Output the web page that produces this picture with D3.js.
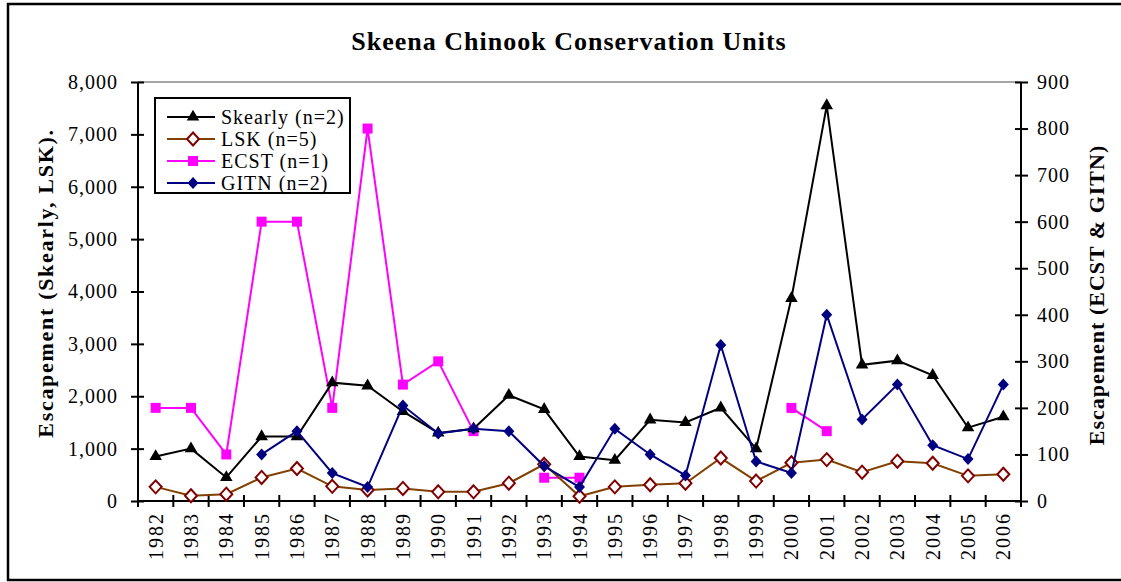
<!DOCTYPE html>
<html lang="en">
<head>
    <meta charset="UTF-8">
    <title>Skeena Chinook Conservation Units</title>
    <style>
        body {
            margin: 0;
            padding: 0;
            background: #fff;
        }
        svg text {
            font-family: "Liberation Serif", "Times New Roman", Times, serif !important;
        }
    </style>
</head>
<body>
<svg id="chart" width="1121" height="582"></svg>

<script src="https://d3js.org/d3.v7.min.js"></script>
<script>
    // data
    var years = [1982, 1983, 1984, 1985, 1986, 1987, 1988, 1989, 1990, 1991, 1992, 1993,
        1994, 1995, 1996, 1997, 1998, 1999, 2000, 2001, 2002, 2003, 2004, 2005, 2006];

    // left axis
    var skearly = [850, 1000, 450, 1230, 1230, 2260, 2200, 1710, 1300, 1380, 2020, 1750,
        850, 780, 1550, 1500, 1780, 1000, 3870, 7550, 2600, 2680, 2400, 1400, 1610];
    var lsk = [270, 100, 130, 450, 620, 280, 210, 240, 175, 175, 340, 700,
        90, 270, 310, 340, 820, 380, 730, 790, 550, 760, 720, 480, 510];

    // right axis
    var ecst = [200, 200, 100, 600, 600, 200, 800, 250, 300, 150, null, 50,
        50, null, null, null, null, null, 200, 150, null, null, null, null, null];
    var gitn = [null, null, null, 100, 150, 60, 30, 205, 145, 155, 150, 75,
        30, 155, 100, 55, 335, 85, 60, 400, 175, 250, 120, 90, 250];

    var leftTicks = [0, 1000, 2000, 3000, 4000, 5000, 6000, 7000, 8000];
    var rightTicks = [0, 100, 200, 300, 400, 500, 600, 700, 800, 900];

    var serif = "'Liberation Serif', 'Times New Roman', Times, serif";
    var svg = d3.select("#chart");
    var margin = {top: 82, right: 100, bottom: 81, left: 138};
    var W = 1121, H = 582;
    var width = W - margin.left - margin.right;
    var height = H - margin.top - margin.bottom;

    // outer frame
    svg.append("rect")
        .attr("x", 8).attr("y", 4)
        .attr("width", 1130).attr("height", 576)
        .attr("fill", "none")
        .attr("stroke", "#000")
        .attr("stroke-width", 2.5);

    var g = svg.append("g")
        .attr("transform", "translate(" + margin.left + "," + margin.top + ")");

    var x = d3.scaleBand().domain(years).range([0, width]);
    var yL = d3.scaleLinear().domain([0, 8000]).range([height, 0]);
    var yR = d3.scaleLinear().domain([0, 900]).range([height, 0]);
    var cx = function (i) { return x(years[i]) + x.bandwidth() / 2; };

    // top border of plot area
    g.append("line")
        .attr("x1", 0).attr("x2", width)
        .attr("y1", 0).attr("y2", 0)
        .attr("stroke", "#888").attr("stroke-width", 1.5);

    // left axis
    var axL = g.append("g")
        .call(d3.axisLeft(yL).tickValues(leftTicks).tickFormat(d3.format(",")).tickSize(7).tickPadding(13));
    axL.selectAll(".tick line").attr("x2", -7).attr("x1", 6);
    // right axis
    var axR = g.append("g")
        .attr("transform", "translate(" + width + ",0)")
        .call(d3.axisRight(yR).tickValues(rightTicks).tickSize(7).tickPadding(9));
    axR.selectAll(".tick line").attr("x1", -6).attr("x2", 7);

    [axL, axR].forEach(function (a) {
        a.attr("font-family", serif);
        a.select(".domain").attr("stroke", "#000").attr("stroke-width", 2).attr("d", "M0,0V" + height);
        a.selectAll(".tick line").attr("stroke", "#000").attr("stroke-width", 2);
        a.selectAll(".tick text")
            .attr("fill", "#000")
            .style("font-size", "20px")
            .style("letter-spacing", "1px")
            .style("font-family", serif);
    });

    // x axis, ticks between categories
    var axX = g.append("g").attr("transform", "translate(0," + height + ")");
    axX.append("line")
        .attr("x1", 0).attr("x2", width)
        .attr("stroke", "#000").attr("stroke-width", 2);
    axX.selectAll(".xt")
        .data(d3.range(years.length + 1))
        .enter().append("line")
        .attr("x1", function (i) { return i * x.step(); })
        .attr("x2", function (i) { return i * x.step(); })
        .attr("y1", -6).attr("y2", 6)
        .attr("stroke", "#000").attr("stroke-width", 2);
    axX.selectAll(".xl")
        .data(years)
        .enter().append("text")
        .attr("transform", function (d) {
            return "translate(" + (x(d) + x.bandwidth() / 2 + 7) + ",11) rotate(-90)";
        })
        .attr("text-anchor", "end")
        .style("font-family", serif)
        .style("font-size", "20px")
        .style("letter-spacing", "2px")
        .text(function (d) { return d; });

    // lines + markers
    function series(values, scale, color, width_) {
        var line = d3.line()
            .defined(function (d) { return d != null; })
            .x(function (d, i) { return cx(i); })
            .y(function (d) { return scale(d); });
        g.append("path")
            .datum(values)
            .attr("fill", "none")
            .attr("stroke", color)
            .attr("stroke-width", width_)
            .attr("d", line);
        var pts = [];
        values.forEach(function (v, i) { if (v != null) pts.push({i: i, v: v}); });
        return g.append("g").selectAll("path")
            .data(pts).enter().append("path")
            .attr("transform", function (d) { return "translate(" + cx(d.i) + "," + scale(d.v) + ")"; });
    }

    var tri = d3.symbol().type(d3.symbolTriangle).size(68)();
    var dia = "M0,-6.5L6,0L0,6.5L-6,0Z";
    var diaSmall = "M0,-6L5.5,0L0,6L-5.5,0Z";
    var sq = "M-5,-5H5V5H-5Z";

    series(ecst, yR, "#ff00ff", 2).attr("d", sq).attr("fill", "#ff00ff");
    series(skearly, yL, "#000", 2).attr("d", tri).attr("fill", "#000");
    series(lsk, yL, "#804000", 2).attr("d", dia).attr("fill", "#fff")
        .attr("stroke", "#800000").attr("stroke-width", 2);
    series(gitn, yR, "#000080", 2).attr("d", diaSmall).attr("fill", "#000080");

    // title
    svg.append("text")
        .attr("x", 569).attr("y", 50)
        .attr("text-anchor", "middle")
        .style("font-family", serif)
        .style("font-size", "26px")
        .style("font-weight", "bold")
        .style("letter-spacing", "1px")
        .text("Skeena Chinook Conservation Units");

    // axis titles
    svg.append("text")
        .attr("transform", "translate(53,283) rotate(-90)")
        .attr("text-anchor", "middle")
        .style("font-family", serif)
        .style("font-size", "22px")
        .style("font-weight", "bold")
        .style("letter-spacing", "1.7px")
        .text("Escapement (Skearly, LSK).");
    svg.append("text")
        .attr("transform", "translate(1104,295) rotate(-90)")
        .attr("text-anchor", "middle")
        .style("font-family", serif)
        .style("font-size", "22px")
        .style("font-weight", "bold")
        .style("letter-spacing", "1px")
        .text("Escapement (ECST & GITN)");

    // legend
    var leg = svg.append("g").attr("transform", "translate(155,98)");
    leg.append("rect")
        .attr("width", 195).attr("height", 95)
        .attr("fill", "#fff").attr("stroke", "#000").attr("stroke-width", 2);
    var legItems = [
        {name: "Skearly (n=2)", color: "#000", d: tri, fill: "#000", stroke: "none"},
        {name: "LSK (n=5)", color: "#804000", d: dia, fill: "#fff", stroke: "#800000"},
        {name: "ECST (n=1)", color: "#ff00ff", d: sq, fill: "#ff00ff", stroke: "none"},
        {name: "GITN (n=2)", color: "#000080", d: diaSmall, fill: "#000080", stroke: "none"}
    ];
    var row = leg.selectAll(".row").data(legItems).enter().append("g")
        .attr("transform", function (d, i) { return "translate(0," + (19 + i * 22) + ")"; });
    row.append("line")
        .attr("x1", 12).attr("x2", 60)
        .attr("stroke", function (d) { return d.color; }).attr("stroke-width", 2);
    row.append("path")
        .attr("transform", "translate(38,0)")
        .attr("d", function (d) { return d.d; })
        .attr("fill", function (d) { return d.fill; })
        .attr("stroke", function (d) { return d.stroke; })
        .attr("stroke-width", 2);
    row.append("text")
        .attr("x", 66).attr("dy", "0.35em")
        .style("font-family", serif)
        .style("font-size", "20px")
        .style("letter-spacing", "1px")
        .text(function (d) { return d.name; });
</script>
</body>
</html>
